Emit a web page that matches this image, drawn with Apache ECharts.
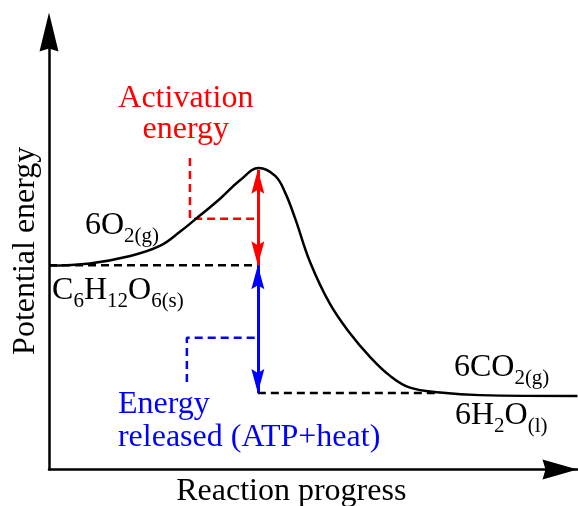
<!DOCTYPE html>
<html><head><meta charset="utf-8">
<script src="https://cdn.jsdelivr.net/npm/echarts@6/dist/echarts.min.js"></script>
<style>html,body{margin:0;padding:0;background:#fff}#c{width:578px;height:506px}</style>
</head><body><div id="c"></div>
<script>
// Reaction coordinate (0-103.5) and potential energy (arbitrary units 0-100)
const progress = [0, 8.0, 15.9, 21.7, 25.7, 29.6, 33.5, 37.4, 41.1, 44.3, 46.2, 48.2, 51.1, 55.0, 58.9, 62.9, 66.8, 70.7, 76.6, 84.4, 103.5];
const energy   = [46.6, 47.1, 48.8, 51.1, 54.4, 58.1, 61.9, 66.1, 68.9, 67.1, 63.4, 57.4, 47.5, 37.9, 31.2, 25.7, 21.4, 18.7, 17.6, 17.0, 16.8];
const reactantLevel = 46.7;
const peakLevel = 68.5;
const productLevel = 17.5;
const peakProgress = 40.9;
const productDashEnd = 76.6;
const activationGuide = [[27.6, 71.2], [27.6, 57.3], [peakProgress, 57.3]];
const releasedGuide = [[27.0, 20.0], [27.0, 30.1], [peakProgress, 30.1]];

const FONT = 'Liberation Serif';
const FS = 32, SUB = 21;
const RED = '#ff0000', BLUE = '#0000ff';
const axisArrowY = 'path://M0,0L9.5,39L0,36L-9.5,39Z';
const axisArrowX = 'path://M0,0L10,35L0,32L-10,35Z';
const headPath = 'path://M0,0L6,24L0,20L-6,24Z';

const chart = echarts.init(document.getElementById('c'), null, {renderer: 'canvas'});

function dashed(data, color) {
  return {type: 'line', data: data, symbol: 'none', silent: true, clip: false, z: 2,
    lineStyle: {color: color, width: 2.5, type: [8, 5]}};
}
function doubleArrow(from, to, color) {
  return {type: 'line', data: [], symbol: 'none', silent: true,
    markLine: {silent: true, symbol: [headPath, headPath], symbolSize: [13, 24],
      symbolOffset: [[0, 12], [0, 12]], label: {show: false}, emphasis: {disabled: true},
      lineStyle: {color: color, width: 3, type: 'solid'},
      data: [[{coord: from}, {coord: to}]]}};
}

const option = {
  animation: false,
  grid: {left: 49, top: 32, right: 0.5, bottom: 36.5, outerBoundsMode: 'none', containLabel: false},
  xAxis: {type: 'value', min: 0, max: 103.5,
    axisLine: {onZero: false, lineStyle: {color: '#000', width: 2.5}, symbol: ['none', axisArrowX],
      symbolSize: [20, 35], symbolOffset: [0, -17.5]},
    axisTick: {show: false}, axisLabel: {show: false}, splitLine: {show: false},
    name: 'Reaction progress', nameLocation: 'middle', nameGap: 6,
    nameTextStyle: {fontFamily: FONT, fontSize: FS, color: '#000', padding: [0, 44, 0, 0]}},
  yAxis: {type: 'value', min: 0, max: 100,
    axisLine: {onZero: false, lineStyle: {color: '#000', width: 2.5}, symbol: ['none', axisArrowY], symbolSize: [19, 39]},
    axisTick: {show: false}, axisLabel: {show: false}, splitLine: {show: false},
    name: 'Potential energy', nameLocation: 'middle', nameGap: 7,
    nameTextStyle: {fontFamily: FONT, fontSize: FS, color: '#000'}},
  series: [
    {type: 'line', data: progress.map((p, i) => [p, energy[i]]), symbol: 'none', smooth: 0.4,
      clip: false, silent: true, z: 3, lineStyle: {color: '#000', width: 2.5}},
    dashed([[0, reactantLevel], [peakProgress, reactantLevel]], '#000'),
    dashed([[peakProgress, productLevel], [productDashEnd, productLevel]], '#000'),
    dashed(activationGuide, RED),
    dashed(releasedGuide, BLUE),
    doubleArrow([peakProgress, peakLevel], [peakProgress, reactantLevel], RED),
    doubleArrow([peakProgress, reactantLevel], [peakProgress, productLevel], BLUE)
  ]
};
chart.setOption(option);

const ctx = document.createElement('canvas').getContext('2d');
function textWidth(t, size) { ctx.font = size + 'px "' + FONT + '"'; return ctx.measureText(t).width; }
function px(pt) { return chart.convertToPixel({gridIndex: 0}, pt); }
// tokens: [text, isSubscript]; anchor = left end of baseline in data units
function chem(tokens, pt) {
  const p = px(pt);
  let x = p[0];
  return tokens.map(function (tk) {
    const size = tk[1] ? SUB : FS;
    const base = tk[1] ? p[1] + 8 : p[1];
    const el = {type: 'text', silent: true, x: x, y: base - size * 0.22,
      style: {text: tk[0], fontFamily: FONT, fontSize: size, fill: '#000', align: 'left', verticalAlign: 'middle'}};
    x += textWidth(tk[0], size);
    return el;
  });
}
function plain(text, pt, color, align) {
  const p = px(pt);
  return {type: 'text', silent: true, x: p[0], y: p[1] - FS * 0.22,
    style: {text: text, fontFamily: FONT, fontSize: FS, fill: color, align: align, verticalAlign: 'middle'}};
}
chart.setOption({graphic: [].concat(
  chem([['6O', 0], ['2(g)', 1]], [7.05, 54.1]),
  chem([['C', 0], ['6', 1], ['H', 0], ['12', 1], ['O', 0], ['6(s)', 1]], [0.6, 39.2]),
  chem([['6CO', 0], ['2(g)', 1]], [79.3, 21.6]),
  chem([['6H', 0], ['2', 1], ['O', 0], ['(l)', 1]], [79.5, 10.6]),
  [plain('Activation', [26.8, 83.1], RED, 'center'),
   plain('energy', [26.8, 76.1], RED, 'center'),
   plain('Energy', [13.5, 13.2], BLUE, 'left'),
   plain('released (ATP+heat)', [13.5, 5.6], BLUE, 'left')]
)});
</script></body></html>
